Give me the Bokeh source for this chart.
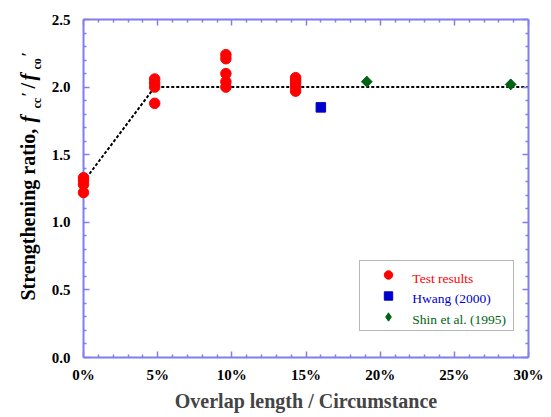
import math
import numpy as np
from bokeh.plotting import figure
from bokeh.models import Range1d, LinearAxis, FixedTicker, Legend, LegendItem
from bokeh.core.properties import value
from bokeh.embed import file_html
from bokeh.resources import INLINE

# ---------------- data ----------------
test_x = [0.0, 0.0, 0.0, 0.0,
          4.8, 4.8, 4.8, 4.8,
          9.6, 9.6, 9.6, 9.6, 9.6,
          14.3, 14.3, 14.3, 14.3, 14.3]
test_y = [1.33, 1.31, 1.28, 1.22,
          2.06, 2.03, 2.00, 1.88,
          2.24, 2.21, 2.10, 2.04, 2.00,
          2.07, 2.05, 2.03, 2.00, 1.97]
hwang_x = [16.0]
hwang_y = [1.85]
shin_x = [19.1, 28.8]
shin_y = [2.04, 2.02]
trend_x = [0.0, 4.8, 30.0]
trend_y = [1.3, 2.0, 2.0]

x_ticks = [0, 5, 10, 15, 20, 25, 30]
x_tick_labels = ["0%", "5%", "10%", "15%", "20%", "25%", "30%"]
y_ticks = [0.0, 0.5, 1.0, 1.5, 2.0, 2.5]
y_tick_labels = ["0.0", "0.5", "1.0", "1.5", "2.0", "2.5"]
legend_labels = ["Test results", "Hwang (2000)", "Shin et al. (1995)"]
x_title = "Overlap length / Circumstance"
y_title_parts = ["Strengthening ratio,", "f", "cc", "\u2032", "/", "f", "co", "\u2032"]

# ---------------- style ----------------
AX = "#7f7fee"
FONT = "Liberation Serif"
RED = "#ff0000"
BLUE = "#0000cc"
GREEN = "#006414"

p = figure(width=551, height=417, output_backend="svg", toolbar_location=None,
           x_range=Range1d(0, 30), y_range=Range1d(0, 2.5),
           x_axis_location=None, y_axis_location=None,
           min_border_left=83, min_border_right=23,
           min_border_top=19, min_border_bottom=60)
p.outline_line_color = None
p.xgrid.visible = False
p.ygrid.visible = False
p.background_fill_color = "white"
p.border_fill_color = "white"

x_minor = [v for v in np.arange(0, 30.01, 1.0) if round(v) % 5 != 0]
y_minor = [round(v, 2) for v in np.arange(0, 2.501, 0.1) if round(v * 10) % 5 != 0]


def style_axis(ax, labels):
    ax.axis_line_color = AX
    ax.axis_line_width = 2
    ax.major_tick_line_color = AX
    ax.minor_tick_line_color = AX
    ax.major_tick_line_width = 1.5
    ax.minor_tick_line_width = 1.5
    ax.major_tick_in = 6
    ax.major_tick_out = 0
    ax.minor_tick_in = 3
    ax.minor_tick_out = 0
    ax.major_label_text_font = FONT
    ax.major_label_text_font_style = "bold"
    ax.major_label_text_font_size = "15px"
    ax.major_label_text_color = "black"
    ax.major_label_overrides = labels


bx = LinearAxis(ticker=FixedTicker(ticks=x_ticks, minor_ticks=x_minor),
                axis_label=x_title)
style_axis(bx, {t: l for t, l in zip(x_ticks, x_tick_labels)})
bx.major_label_standoff = 9
bx.axis_label_text_font = FONT
bx.axis_label_text_font_style = "bold"
bx.axis_label_text_font_size = "20px"
bx.axis_label_standoff = 4
p.add_layout(bx, "below")

tx = LinearAxis(ticker=FixedTicker(ticks=x_ticks, minor_ticks=x_minor))
style_axis(tx, {t: "" for t in x_ticks})
tx.major_label_standoff = 0
p.add_layout(tx, "above")

ly = LinearAxis(ticker=FixedTicker(ticks=y_ticks, minor_ticks=y_minor))
style_axis(ly, {t: l for t, l in zip(y_ticks, y_tick_labels)})
ly.major_label_standoff = 13
p.add_layout(ly, "left")

ry = LinearAxis(ticker=FixedTicker(ticks=y_ticks, minor_ticks=y_minor))
style_axis(ry, {t: "" for t in y_ticks})
ry.major_label_standoff = 0
p.add_layout(ry, "right")

# ---------------- glyphs ----------------
p.line(trend_x, trend_y, line_color="black", line_width=2, line_dash="3 2")
r_test = p.scatter(test_x, test_y, marker="circle", size=10.5,
                   fill_color=RED, line_color=RED, level="overlay")
r_hwang = p.scatter(hwang_x, hwang_y, marker="square", size=9.5,
                    fill_color=BLUE, line_color=BLUE, level="overlay")
# Shin et al.: diamond key (drawn underneath) + rotated square for the squat diamond look
r_shin = p.scatter(shin_x, shin_y, marker="diamond", size=10.5,
                   fill_color=GREEN, line_color=GREEN, level="overlay")
p.scatter(shin_x, shin_y, marker="square", size=7.6, angle=math.pi / 4,
          fill_color=GREEN, line_color=GREEN, level="overlay")

legend = Legend(items=[LegendItem(label=" ", renderers=[r]) for r in (r_test, r_hwang, r_shin)],
                location=(276, 26), orientation="vertical",
                border_line_color="#707070", border_line_width=1.5,
                background_fill_alpha=0.0,
                padding=3, spacing=0, margin=0,
                glyph_width=50, glyph_height=21, label_height=21,
                label_width=92, label_standoff=5)
p.add_layout(legend, "center")

# legend texts, each in its series colour
p.text(x=[22.17] * 3, y=[0.587, 0.434, 0.281], text=legend_labels,
       text_color=[RED, BLUE, GREEN], text_font=value(FONT), text_font_size="13.5px",
       text_baseline="middle", text_align="left", level="overlay")

# ---------------- y-axis title (composed, rotated) ----------------
yt_x = [-3.75, -3.75, -3.14, -3.75, -3.75, -3.75, -3.14, -3.75]
yt_y = [0.4216, 1.738, 1.842, 1.930, 1.990, 2.049, 2.130, 2.226]
yt_size = ["20px", "21px", "12px", "16px", "20px", "21px", "12px", "16px"]
yt_style = ["bold", "bold italic", "bold", "bold", "bold", "bold italic", "bold", "bold"]
p.text(x=yt_x, y=yt_y, text=y_title_parts, angle=math.pi / 2,
       text_font=value(FONT), text_font_size=yt_size, text_font_style=yt_style,
       text_color="black", text_baseline="alphabetic", text_align="left",
       level="overlay")

open("out.html", "w").write(file_html(p, INLINE))
